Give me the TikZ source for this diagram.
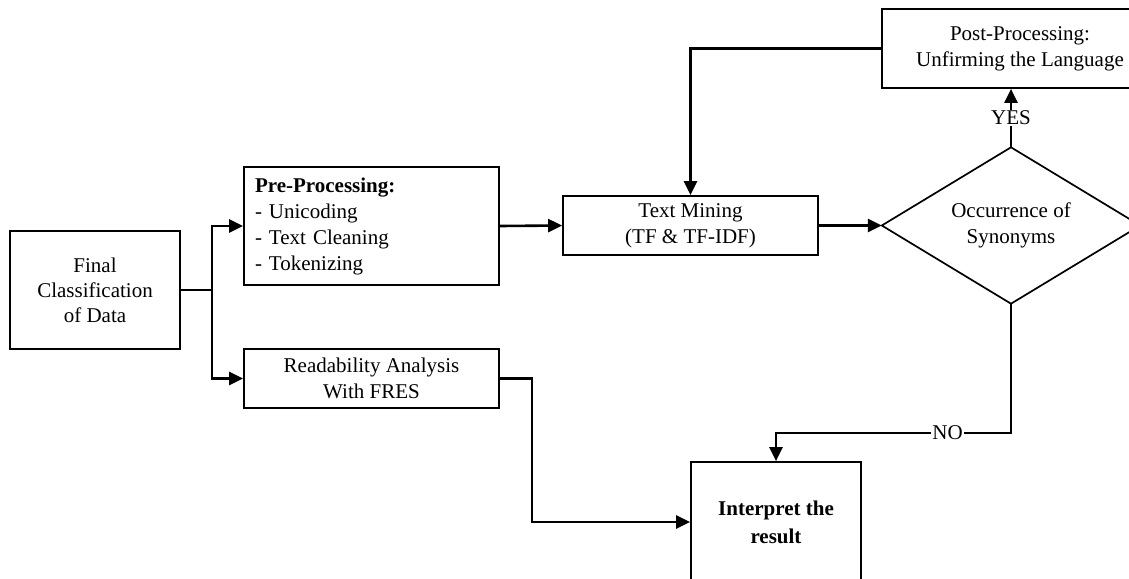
\documentclass[tikz,border=0pt]{standalone}
\usepackage{fontspec}
\setmainfont{Liberation Serif}
\usetikzlibrary{arrows.meta}
\begin{document}
\begin{tikzpicture}[x=1pt,y=-1pt,
  txt/.style={font=\fontsize{21}{26}\selectfont},
  box/.style={draw, line width=1.7pt, inner sep=0pt, txt, align=center},
  conn/.style={line width=2.6pt, -{Triangle[length=14pt,width=13pt]}},
  wire/.style={line width=2.6pt},
  lab/.style={fill=white, inner sep=1pt, txt}]
\path[use as bounding box] (0,0) rectangle (1129,578);
\clip (0,0) rectangle (1129,578);

\node[box, minimum width=170pt, minimum height=118pt, font=\fontsize{21}{25}\selectfont] (final) at (95,290) {Final\\Classification\\of Data};
\node[box, minimum width=255pt, minimum height=118pt, align=left, text width=233pt] (pre) at (371.5,226) {\textbf{Pre-Processing:}\\- Unicoding\\- Text Cleaning\\- Tokenizing};
\node[box, minimum width=255pt, minimum height=59pt] (read) at (371.5,378.5) {Readability Analysis\\With FRES};
\node[box, minimum width=255pt, minimum height=59pt] (tm) at (690.5,225.5) {Text Mining\\(TF \& TF-IDF)};
\node[box, minimum width=276pt, minimum height=79pt] (post) at (1020,48.5) {Post-Processing:\\Unfirming the Language};
\node[inner sep=0pt, minimum width=258pt, minimum height=156pt, txt, align=center] (dia) at (1011,225.5) {Occurrence of\\Synonyms};
\draw[line width=1.7pt, line join=miter] (dia.west) -- (dia.north) -- (dia.east) -- (dia.south) -- cycle;
\node[box, minimum width=170pt, minimum height=120pt, font=\fontsize{21}{28}\selectfont\bfseries] (int) at (776,522) {Interpret the\\result};

\coordinate (j) at (212,290);
\coordinate (rb) at (532,0);
\coordinate (nobend) at (1011,433);

\draw[wire] (final.east) -- (j);
\draw[conn] (j) |- (pre.west);
\draw[conn] (j) |- (read.west);
\draw[conn] (pre.east) -- (tm.west);
\draw[conn] (tm.east) -- (dia.west);
\draw[conn] (post.west) -| (tm.north);
\draw[conn] (dia.north) -- node[lab]{YES} (dia.north |- post.south);
\draw[conn] (dia.south) -- (nobend) -- node[lab, pos=0.27]{NO} (nobend -| int.north) -- (int.north);
\draw[conn] (read.east) -| (rb |- int.west) -- (int.west);
\end{tikzpicture}
\end{document}
